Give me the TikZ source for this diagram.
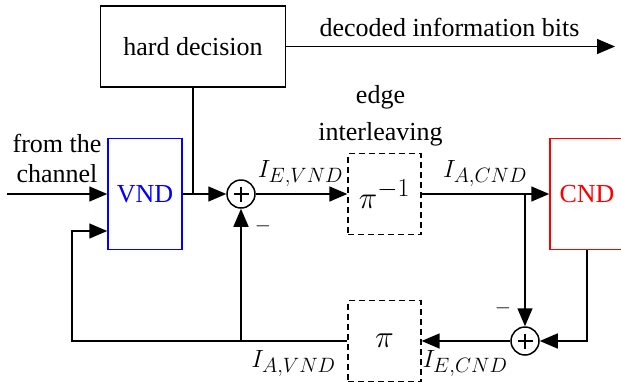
\documentclass[tikz,border=0pt]{standalone}
\usepackage{fontspec}
\setmainfont{Liberation Serif}
\usetikzlibrary{arrows.meta}
\DeclareMathSizes{26}{24.88}{20.74}{14.4}
\begin{document}
\begin{tikzpicture}[x=1pt,y=-1pt,
  every node/.style={font=\fontsize{26}{30}\selectfont, inner sep=0pt},
  lw/.style={line width=1.5pt},
  arr/.style={lw,-{Triangle[length=18pt,width=15pt]}},
  hdbox/.style={draw, line width=1.3pt, minimum width=185pt, minimum height=81pt},
  vndbox/.style={draw=blue, text=blue, line width=1.5pt, minimum width=74pt, minimum height=111pt},
  cndbox/.style={draw=red, text=red, line width=1.5pt, minimum width=74pt, minimum height=111pt},
  ilvbox/.style={draw, line width=1.3pt, dash pattern=on 6pt off 4pt, minimum width=73pt, minimum height=81pt},
  sumnode/.style={circle, draw, line width=1.5pt, minimum size=28pt,
    path picture={\draw[line width=1.4pt]
      ([xshift=-7.5pt]path picture bounding box.center) -- ([xshift=7.5pt]path picture bounding box.center)
      ([yshift=-7.5pt]path picture bounding box.center) -- ([yshift=7.5pt]path picture bounding box.center);}},
  lbl/.style={anchor=base}]
\useasboundingbox (0,0) rectangle (621,381);

\node[hdbox] (hd) at (193,46.5) {hard decision};
\node[vndbox] (vnd) at (145,194) {VND};
\node[cndbox] (cnd) at (587,194) {CND};
\node[ilvbox] (piinv) at (384.5,194) {\scalebox{1.25}{$\pi^{-1}$}};
\node[ilvbox] (pi) at (384.5,341) {\scalebox{1.27}{$\pi$}};
\node[sumnode] (s1) at (241,194) {};
\node[sumnode] (s2) at (525,341) {};

\coordinate (in) at (7,194);
\coordinate (out) at (615,47);
\coordinate (lc) at (72,341);
\coordinate (lt) at (72,231);

\draw[arr] (in) -- (vnd.west);
\draw[arr] (vnd.east) -- (s1.west);
\draw[lw] (hd.south) -- (hd.south |- vnd.east);
\draw[arr] (hd.east) -- (hd.east -| out);
\draw[arr] (s1.east) -- (piinv.west);
\draw[arr] (piinv.east) -- (cnd.west);
\draw[arr] (s2 |- cnd.west) -- (s2.north);
\draw[arr] (cnd.south) |- (s2.east);
\draw[arr] (s2.west) -- (pi.east);
\draw[arr] (pi.west) -- (lc) -- (lt) -- (lt -| vnd.west);
\draw[arr] (s1 |- lc) -- (s1.south);

\node[align=center] (src) at (57,158) {from the\\channel};
\node[align=center, font=\fontsize{26}{37}\selectfont] (ei) at (380.5,115.5) {edge\\interleaving};
\node[lbl] (dec) at (449.5,36) {decoded information bits};
\node[lbl] (ievnd) at (300.5,177) {$I_{E,VND}$};
\node[lbl] (iacnd) at (485,177) {$I_{A,CND}$};
\node[lbl] (iavnd) at (293.5,367) {$I_{A,VND}$};
\node[lbl] (iecnd) at (465,367) {$I_{E,CND}$};
\node (m1) at (263,226) {$\scriptstyle -$};
\node (m2) at (503,308) {$\scriptstyle -$};
\end{tikzpicture}
\end{document}
